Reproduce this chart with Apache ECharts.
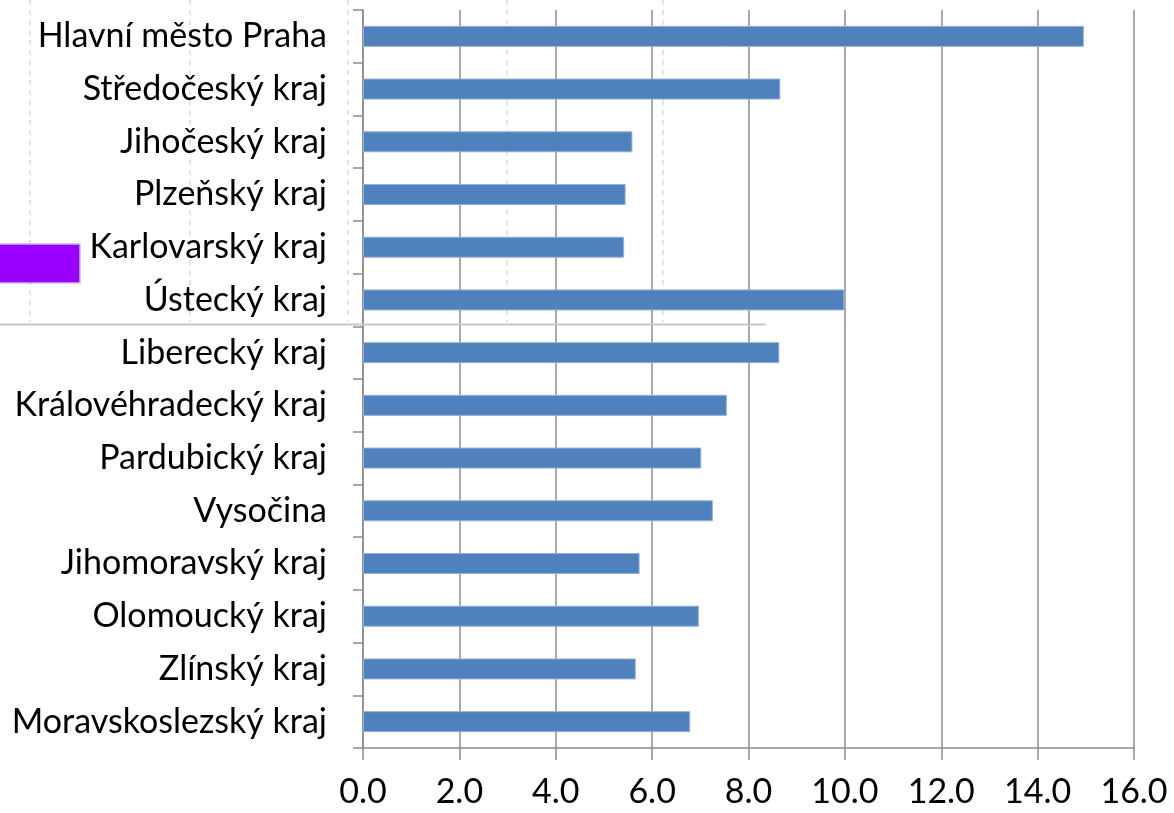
<!DOCTYPE html>
<html>
<head>
<meta charset="utf-8">
<script src="https://cdn.jsdelivr.net/npm/echarts@6/dist/echarts.min.js"></script>
<style>
html,body{margin:0;padding:0;background:#fff;}
#chart{width:1174px;height:813px;}
</style>
</head>
<body>
<div id="chart"></div>
<script>
var categories = ["Hlavní město Praha","Středočeský kraj","Jihočeský kraj","Plzeňský kraj","Karlovarský kraj","Ústecký kraj","Liberecký kraj","Královéhradecký kraj","Pardubický kraj","Vysočina","Jihomoravský kraj","Olomoucký kraj","Zlínský kraj","Moravskoslezský kraj"];
var values = [14.96, 8.66, 5.59, 5.45, 5.42, 9.99, 8.64, 7.55, 7.02, 7.26, 5.74, 6.97, 5.66, 6.79];
var xMin = 0, xMax = 16, xStep = 2;

var chart = echarts.init(document.getElementById('chart'), null, {renderer:'canvas'});
var FONT = 'Lato';
var dashX = [30, 190, 348, 507, 663];
var graphics = dashX.map(function(x){
  return {type:'line', z:0, silent:true, shape:{x1:x,y1:0,x2:x,y2:322}, style:{stroke:'#dcdcdc', lineWidth:1.5, lineDash:[5,5]}};
});
graphics.push({type:'line', z:100, silent:true, shape:{x1:0,y1:324.5,x2:766,y2:324.5}, style:{stroke:'#c8c8c8', lineWidth:2}});
graphics.push({type:'rect', z:100, silent:true, shape:{x:-2,y:244,width:82,height:39}, style:{fill:'#9900ff', stroke:'#c9b8d8', lineWidth:1.5}});

chart.setOption({
  animation:false,
  backgroundColor:'#ffffff',
  grid:{left:363, right:40, top:10, bottom:65, containLabel:false},
  xAxis:{
    type:'value', min:xMin, max:xMax, interval:xStep,
    axisLine:{show:true, lineStyle:{color:'#8c8c8c', width:1.5}},
    axisTick:{show:true, length:12, lineStyle:{color:'#8c8c8c', width:1.5}},
    splitLine:{show:true, lineStyle:{color:'#8c8c8c', width:1.5}},
    axisLabel:{color:'#000', fontFamily:FONT, fontSize:34, margin:27, formatter:function(v){return v.toFixed(1);}}
  },
  yAxis:{
    type:'category', data:categories, inverse:true,
    axisLine:{show:true, lineStyle:{color:'#8c8c8c', width:1.5}},
    axisTick:{show:true, length:10, lineStyle:{color:'#8c8c8c', width:1.5}},
    axisLabel:{color:'#000', fontFamily:FONT, fontSize:34, margin:36}
  },
  series:[{
    type:'bar', data:values, barWidth:21, z:2,
    itemStyle:{color:'#4f81bd', borderColor:'#94b0d8', borderWidth:1}
  }],
  graphic:graphics
});
</script>
</body>
</html>
